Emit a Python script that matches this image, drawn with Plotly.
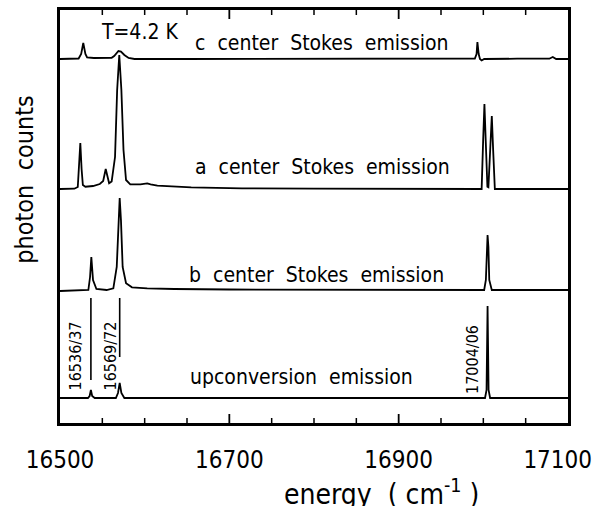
import plotly.graph_objects as go

# Energy axis (cm^-1)
x_min, x_max = 16500, 17100

# c center Stokes emission
c_energy = [16500, 16515, 16522, 16525, 16527.5, 16530, 16532, 16540, 16555, 16561,
            16564, 16567, 16569, 16572, 16576, 16581, 16588, 16650, 16800, 16985,
            16990, 16992, 16993, 16994.5, 16996, 16998, 17001, 17040, 17078, 17082,
            17086, 17100]
c_counts = [0, 0, 0.5, 5, 16, 5, 1.5, 1, 1, 1.2,
            3, 6.5, 8, 7.5, 4, 1, 0, 0, 0.3, 0,
            0.5, 5, 17, 5, 0, -1.5, 0, 0.3, 0.3, 2,
            0, 0]

# a center Stokes emission
a_energy = [16500, 16517, 16521, 16522.5, 16524, 16525.5, 16527, 16530, 16539, 16547,
            16551, 16554, 16556.5, 16558, 16561, 16565, 16567.5, 16570, 16572.5, 16575,
            16578, 16583, 16595, 16600, 16603, 16607, 16615, 16655, 16715, 16800,
            16900, 16998, 16999.8, 17001.3, 17002.8, 17004.8, 17006, 17008, 17010, 17011.6,
            17013.6, 17030, 17100]
a_counts = [0, 0.3, 2, 20, 46, 20, 4, 2.3, 3, 5,
            8, 20, 9, 5.7, 7.5, 32, 99, 134, 99, 39,
            9, 4.7, 4.7, 5.7, 5.7, 4.7, 3.3, 1.7, 0.7, 0.3,
            0.2, 0, 49, 85, 49, 2.3, 1.7, 39, 73, 39,
            0, 0, 0]

# b center Stokes emission
b_energy = [16500, 16520, 16533.5, 16535.5, 16537, 16539, 16543, 16555, 16563, 16567,
            16569, 16570.5, 16572, 16574, 16578, 16585, 16603, 16635, 16700, 16850,
            17001, 17003, 17004, 17005, 17006, 17007, 17010, 17050, 17100]
b_counts = [-1, 0, 0, 13, 33, 10, 1, 0, 1.7, 23,
            70, 92, 70, 23, 6.7, 2.7, 1.7, 1, 0.5, 0.3,
            0, 10, 43, 55, 43, 10, 0, 0, 0]

# Upconversion emission
u_energy = [16500, 16533, 16535, 16536.5, 16538, 16541, 16566, 16568.5, 16570.5, 16572.5,
            16576, 16700, 16900, 17002, 17003.8, 17005, 17006.2, 17008, 17100]
u_counts = [0, 0, 2, 8, 2, 0, 0, 5, 15, 5,
            0, 0, 0, 0, 8, 92, 8, 0, 0]

# Line positions marked in the upconversion panel
line_energies = [16536.5, 16570.5, 17005]
line_labels = ["16536/37", "16569/72", "17004/06"]

# Labelled energies on the x axis, and the tick marks along the frame
tick_values = [16500, 16700, 16900, 17100]
tick_labels = ["16500", "16700", "16900", "17100\u00a0\u00a0\u00a0"]
long_ticks = [16700, 16900]
short_ticks = [16550, 16600, 16650, 16750, 16800, 16850, 16950, 17000, 17050]

# Vertical offsets of the stacked spectra
offsets = {"c": 364, "a": 234, "b": 133, "u": 25}

spectra = [
    ("c", c_energy, c_counts),
    ("a", a_energy, a_counts),
    ("b", b_energy, b_counts),
    ("u", u_energy, u_counts),
]

fig = go.Figure()
for key, ex, cy in spectra:
    fig.add_trace(go.Scatter(
        x=ex, y=[offsets[key] + v for v in cy], mode="lines",
        line=dict(color="black", width=1.8), hoverinfo="skip", showlegend=False))

# marker bars above the two weak upconversion lines
bar_spans = [(18, 100), (41, 100)]
for e, (lo, hi) in zip(line_energies[:2], bar_spans):
    fig.add_trace(go.Scatter(
        x=[e, e], y=[offsets["u"] + lo, offsets["u"] + hi], mode="lines",
        line=dict(color="black", width=1.6), hoverinfo="skip", showlegend=False))

# tick marks pointing into the frame from the bottom and top edges
shapes = []
for values, length, width in ((long_ticks, 9, 1.8), (short_ticks, 5, 1.5)):
    for v in values:
        for edge, sign in ((0, 1), (1, -1)):
            shapes.append(dict(
                type="line", xref="x", yref="paper", x0=v, x1=v,
                ysizemode="pixel", yanchor=edge, y0=0, y1=sign * length,
                line=dict(color="black", width=width), layer="above"))

cond = "DejaVu Sans Condensed"
label_font = dict(family=cond, size=21, color="black")

annotations = [
    dict(x=16594, y=391, text="T=4.2 K"),
    dict(x=16809, y=380, text="c  center  Stokes  emission"),
    dict(x=16810, y=256.5, text="a  center  Stokes  emission"),
    dict(x=16803, y=148, text="b  center  Stokes  emission"),
    dict(x=16785, y=46, text="upconversion  emission"),
]
for a in annotations:
    a.update(xref="x", yref="y", showarrow=False, font=label_font,
             xanchor="center", yanchor="middle")

rot_pos = [(16518.3, 67), (16558.5, 67), (16986.6, 64)]
for (xe, yv), txt in zip(rot_pos, line_labels):
    annotations.append(dict(
        x=xe, y=yv, xref="x", yref="y", text=txt, textangle=-90, showarrow=False,
        xanchor="center", yanchor="middle",
        font=dict(family=cond, size=16, color="black")))

annotations.append(dict(
    x=-0.07, y=0.59, xref="paper", yref="paper", text="photon  counts",
    textangle=-90, showarrow=False, xanchor="center", yanchor="middle",
    font=dict(family=cond, size=25, color="black")))
annotations.append(dict(
    x=0.632, y=-0.168, xref="paper", yref="paper",
    text="energy  ( cm<sup>-1</sup> )", showarrow=False,
    xanchor="center", yanchor="middle",
    font=dict(family=cond, size=28, color="black")))

fig.update_layout(
    width=596, height=506,
    margin=dict(l=60, r=28, t=10, b=83, autoexpand=False),
    paper_bgcolor="white", plot_bgcolor="white",
    annotations=annotations, shapes=shapes,
    xaxis=dict(
        range=[x_min, x_max], tickmode="array", tickvals=tick_values,
        ticktext=tick_labels, ticks="",
        showline=True, linewidth=2.5, linecolor="black", mirror=True,
        showgrid=False, zeroline=False, automargin=False,
        ticklabelstandoff=13, ticklabeloverflow="allow",
        tickfont=dict(family=cond, size=24, color="black")),
    yaxis=dict(
        range=[0, 413], showticklabels=False, ticks="",
        showline=True, linewidth=2.5, linecolor="black", mirror=True,
        showgrid=False, zeroline=False, automargin=False),
)

fig.write_html("out.html")
